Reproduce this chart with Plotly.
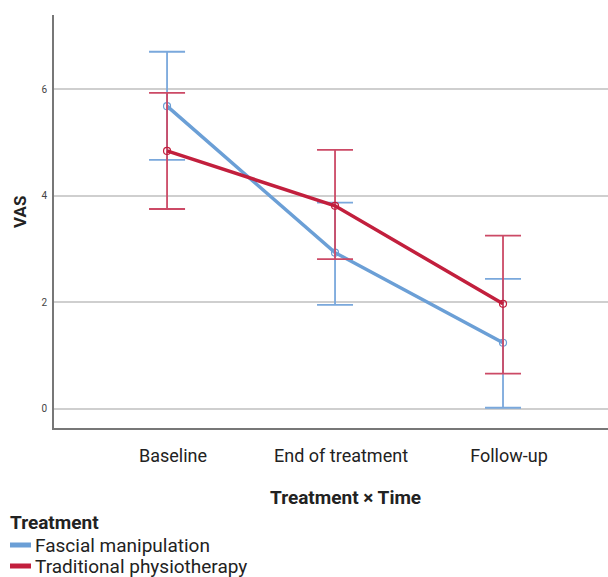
import plotly.graph_objects as go

categories = ["Baseline", "End of treatment", "Follow-up"]
fm_mean = [5.68, 2.93, 1.24]
fm_upper = [6.70, 3.87, 2.44]
fm_lower = [4.67, 1.95, 0.02]
tp_mean = [4.84, 3.81, 1.97]
tp_upper = [5.93, 4.86, 3.25]
tp_lower = [3.75, 2.81, 0.66]
series_names = ["Fascial manipulation", "Traditional physiotherapy"]
y_ticks = [0, 2, 4, 6]

BLUE = "#6b9fd6"
RED = "#c21f3d"
BLUE_EB = "#7aa8dc"
RED_EB = "#cc4a66"

W, H = 608, 577
ML, MR, MT, MB = 54, 0, 15, 149
PW, PH = W - ML - MR, H - MT - MB


def px_x(x):
    return (x - ML) / PW


def px_y(y):
    return (H - MB - y) / PH


xi = list(range(len(categories)))

fig = go.Figure()

for mean, up, lo, color, ebc in [
    (fm_mean, fm_upper, fm_lower, BLUE, BLUE_EB),
    (tp_mean, tp_upper, tp_lower, RED, RED_EB),
]:
    fig.add_trace(go.Scatter(
        x=xi, y=mean, mode="lines+markers",
        line=dict(color=color, width=3.5),
        marker=dict(symbol="circle-open", size=7, color=color, line=dict(width=1.2)),
        error_y=dict(type="data", symmetric=False,
                     array=[u - m for u, m in zip(up, mean)],
                     arrayminus=[m - l for m, l in zip(mean, lo)],
                     color=ebc, thickness=1.8, width=18),
        showlegend=False, hoverinfo="skip",
    ))

annotations = [
    dict(text="<b>VAS</b>", x=px_x(20), y=px_y(212), xref="paper", yref="paper",
         textangle=-90, showarrow=False, font=dict(size=17, color="#222"),
         xanchor="center", yanchor="middle"),
    dict(text="<b>Treatment × Time</b>", x=px_x(345), y=px_y(497), xref="paper", yref="paper",
         showarrow=False, font=dict(size=19, color="#222"), xanchor="center", yanchor="middle"),
    dict(text="<b>Treatment</b>", x=px_x(8), y=px_y(522), xref="paper", yref="paper",
         showarrow=False, font=dict(size=19, color="#222"), xanchor="left", yanchor="middle"),
]
shapes = []
for i, (name, color) in enumerate(zip(series_names, [BLUE, RED])):
    yy = 545 + i * 21
    shapes.append(dict(type="line", xref="paper", yref="paper",
                       x0=px_x(10), x1=px_x(31), y0=px_y(yy), y1=px_y(yy),
                       line=dict(color=color, width=5)))
    annotations.append(dict(text=name, x=px_x(33), y=px_y(yy), xref="paper", yref="paper",
                            showarrow=False, font=dict(size=19, color="#222"),
                            xanchor="left", yanchor="middle"))

fig.update_layout(
    width=W, height=H,
    margin=dict(l=ML, r=MR, t=MT, b=MB, autoexpand=False),
    paper_bgcolor="white", plot_bgcolor="white",
    font=dict(family="Roboto", color="#222"),
    showlegend=False,
    xaxis=dict(
        range=[-0.673, 2.625], tickmode="array", tickvals=xi, ticktext=categories,
        showgrid=False, zeroline=False, showline=True, linecolor="#777", linewidth=2,
        ticks="", tickangle=0, tickfont=dict(size=18, color="#222"),
        ticklabelstandoff=10, ticklabelshift=6,
    ),
    yaxis=dict(
        range=[-0.36, 7.39], tickvals=y_ticks,
        showgrid=True, gridcolor="#cfcfcf", gridwidth=1.5, zeroline=False,
        showline=True, linecolor="#777", linewidth=2, ticks="",
        tickfont=dict(size=10, color="#444"), ticklabelstandoff=3,
        tickprefix="<b>", ticksuffix="</b>",
    ),
    annotations=annotations,
    shapes=shapes,
)

fig.write_html("out.html")
